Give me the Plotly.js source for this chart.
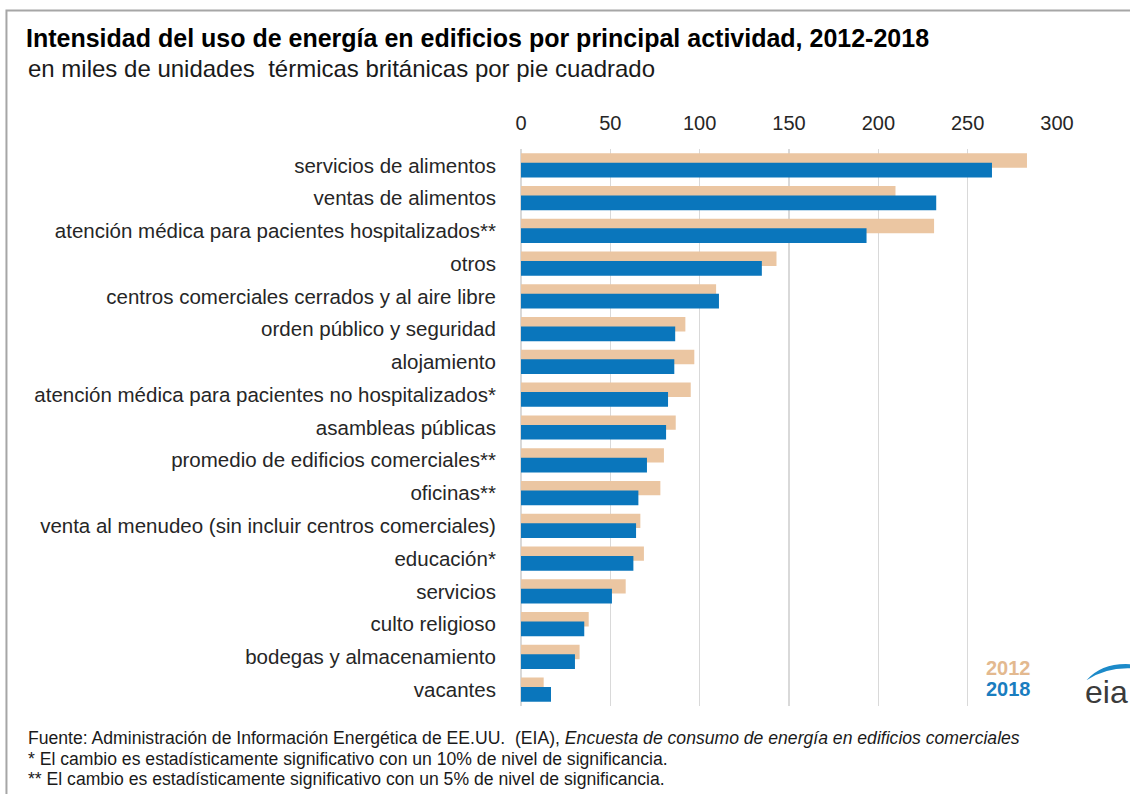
<!DOCTYPE html>
<html>
<head>
<meta charset="utf-8">
<script src="https://cdn.plot.ly/plotly-3.0.1.min.js"></script>
<style>
  html, body { margin: 0; padding: 0; background: #ffffff; }
  #chart { width: 1130px; height: 794px; }
</style>
</head>
<body>
<div id="chart"></div>
<script>
const categories = [
  "servicios de alimentos",
  "ventas de alimentos",
  "atención médica para pacientes hospitalizados**",
  "otros",
  "centros comerciales cerrados y al aire libre",
  "orden público y seguridad",
  "alojamiento",
  "atención médica para pacientes no hospitalizados*",
  "asambleas públicas",
  "promedio de edificios comerciales**",
  "oficinas**",
  "venta al menudeo (sin incluir centros comerciales)",
  "educación*",
  "servicios",
  "culto religioso",
  "bodegas y almacenamiento",
  "vacantes"
];
const values2012 = [283.2, 209.6, 231.2, 143.0, 109.2, 92.0, 97.0, 95.0, 86.6, 80.0, 78.0, 66.8, 68.8, 58.6, 37.9, 32.8, 12.7];
const values2018 = [263.6, 232.4, 193.4, 134.8, 110.8, 86.3, 85.8, 82.3, 81.2, 70.5, 65.7, 64.4, 62.9, 50.9, 35.4, 30.2, 16.8];
const seriesNames = ["2012", "2018"];
const xTicks = [0, 50, 100, 150, 200, 250, 300];

const titleText = "Intensidad del uso de energía en edificios por principal actividad, 2012-2018";
const subtitleText = "en miles de unidades  térmicas británicas por pie cuadrado";
const sourceLines = [
  "Fuente: Administración de Información Energética de EE.UU.  (EIA), <i>Encuesta de consumo de energía en edificios comerciales</i>",
  "* El cambio es estadísticamente significativo con un 10% de nivel de significancia.",
  "** El cambio es estadísticamente significativo con un 5% de nivel de significancia."
];

const W = 1130, H = 794;
const M = { l: 520.5, r: 72.5, t: 148.6, b: 88.3 };
const PW = W - M.l - M.r, PH = H - M.t - M.b;
const px = x => (x - M.l) / PW;          // pixel -> paper x
const py = y => 1 - (y - M.t) / PH;      // pixel -> paper y

const FONT = 'Arial, "Liberation Sans", sans-serif';
const TAN = "#EBC6A2";
const BLUE = "#0A76BC";

const traces = [
  {
    type: "bar", orientation: "h", name: seriesNames[0],
    y: categories, x: values2012,
    marker: { color: TAN },
    offset: -0.37, width: 0.44,
    hoverinfo: "x+y+name"
  },
  {
    type: "bar", orientation: "h", name: seriesNames[1],
    y: categories, x: values2018,
    marker: { color: BLUE },
    offset: -0.08, width: 0.45,
    hoverinfo: "x+y+name"
  }
];

const annotations = [
  { xref: "paper", yref: "paper", x: px(25), y: py(68), xanchor: "left", yanchor: "middle",
    text: subtitleText, showarrow: false, font: { family: FONT, size: 24, color: "#1a1a1a" } },
  { xref: "paper", yref: "paper", x: px(1009), y: py(668), xanchor: "center", yanchor: "middle",
    text: "<b>" + seriesNames[0] + "</b>", showarrow: false, font: { family: FONT, size: 20, color: "#E3B98F" } },
  { xref: "paper", yref: "paper", x: px(1009), y: py(689), xanchor: "center", yanchor: "middle",
    text: "<b>" + seriesNames[1] + "</b>", showarrow: false, font: { family: FONT, size: 20, color: "#1A7DBF" } },
  { xref: "paper", yref: "paper", x: px(1084), y: py(692), xanchor: "left", yanchor: "middle",
    text: "eia", showarrow: false, font: { family: FONT, size: 32, color: "#3b3b3b" } }
];
sourceLines.forEach((t, i) => {
  annotations.push({ xref: "paper", yref: "paper", x: px(25), y: py(738 + i * 20.5), xanchor: "left", yanchor: "middle",
    text: t, showarrow: false, font: { family: FONT, size: 17.6, color: "#1a1a1a" } });
});

const shapes = [
  { type: "rect", xref: "paper", yref: "paper", x0: px(5), x1: px(1140), y0: py(10), y1: py(800),
    line: { color: "#a6a6a6", width: 2 }, fillcolor: "rgba(0,0,0,0)", layer: "below" },
  { type: "path", xref: "paper", yref: "paper",
    path: "M " + px(1087) + "," + py(680) + " Q " + px(1103) + "," + py(662) + " " + px(1132) + "," + py(664) +
          " L " + px(1132) + "," + py(668) + " Q " + px(1106) + "," + py(667) + " " + px(1087) + "," + py(680) + " Z",
    fillcolor: "#1C8AC9", line: { width: 0 } }
];

const layout = {
  width: W, height: H,
  margin: M,
  paper_bgcolor: "#ffffff", plot_bgcolor: "#ffffff",
  font: { family: FONT, color: "#262626" },
  title: {
    text: "<b>" + titleText + "</b>",
    xref: "container", yref: "container",
    x: 26 / W, xanchor: "left", y: 1 - 38 / H, yanchor: "middle",
    font: { family: FONT, size: 25, color: "#000000" }
  },
  barmode: "overlay",
  showlegend: false,
  xaxis: {
    side: "top", range: [0, 300], tickvals: xTicks, ticktext: xTicks.map(String),
    showgrid: true, gridcolor: "#d9d9d9", gridwidth: 1.5,
    zeroline: true, zerolinecolor: "#d9d9d9", zerolinewidth: 1.5,
    showline: false, ticks: "outside", ticklen: 10, tickcolor: "rgba(0,0,0,0)",
    tickfont: { family: FONT, size: 20, color: "#262626" }, fixedrange: true
  },
  yaxis: {
    type: "category", autorange: false, range: [16.5, -0.5],
    showgrid: false, zeroline: false, showline: false,
    ticks: "outside", ticklen: 20, tickcolor: "rgba(0,0,0,0)",
    tickfont: { family: FONT, size: 20.5, color: "#262626" }, fixedrange: true
  },
  annotations: annotations,
  shapes: shapes
};

Plotly.newPlot("chart", traces, layout, { displayModeBar: false, staticPlot: true });
</script>
</body>
</html>
